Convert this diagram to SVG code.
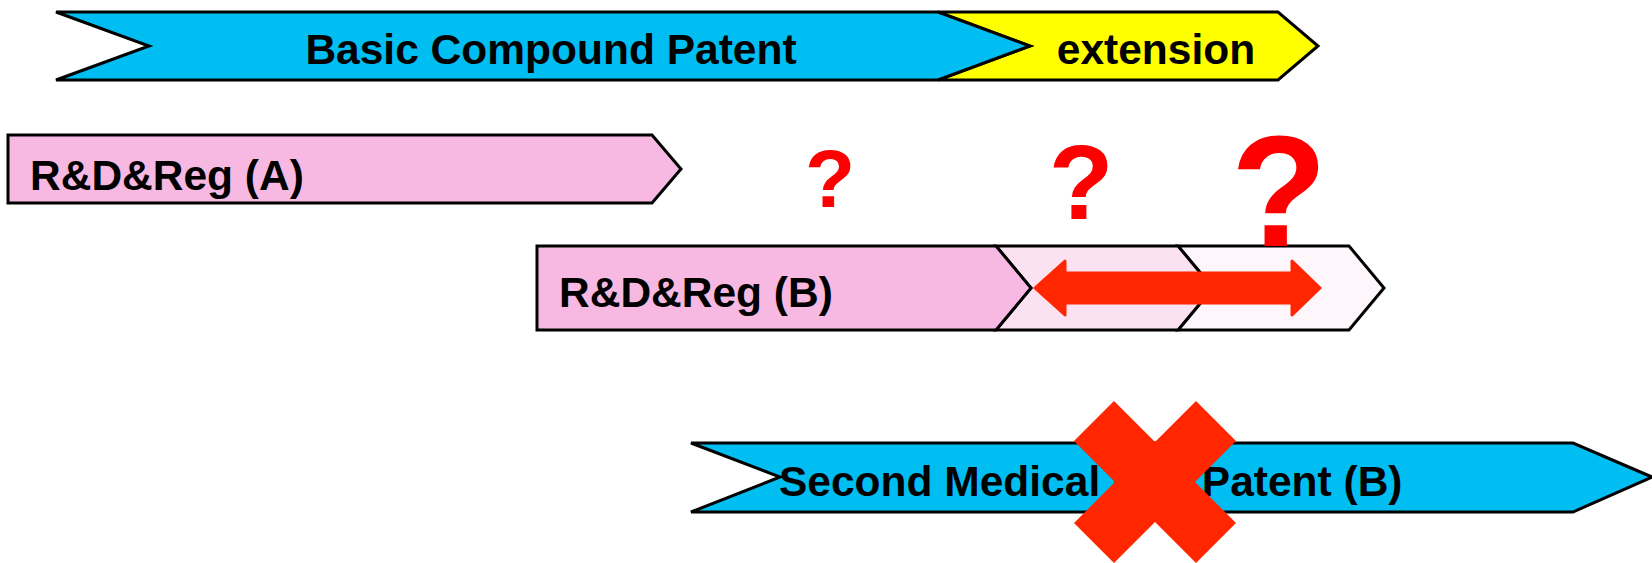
<svg xmlns="http://www.w3.org/2000/svg" width="1652" height="563" viewBox="0 0 1652 563">
<style>
.box{stroke:#000;stroke-width:3;stroke-linejoin:miter}
.blue{fill:#00BEF2}
.yellow{fill:#FFFF00}
.pink{fill:#F7B9E1}
.lpink{fill:#FCE1F2}
.vlpink{fill:#FFF6FC}
.lbl{font-family:"Liberation Sans",Arial,sans-serif;font-weight:bold;font-size:42.5px;fill:#000}
.q{font-family:"Liberation Sans",Arial,sans-serif;font-weight:bold;fill:#FF0000;text-anchor:middle}
.mark{fill:#FF2600;stroke:#FF2600;stroke-width:3;stroke-linejoin:round}
</style>
<rect width="1652" height="563" fill="#FFFFFF"/>
<g id="extension">
<polygon class="box yellow" points="938,12 1278,12 1318,46 1278,80 938,80 1030,46"/>
<text class="lbl" x="1156" y="64" text-anchor="middle">extension</text>
</g>
<g id="basic-patent">
<polygon class="box blue" points="56,12 938,12 1030,46 938,80 56,80 149,46"/>
<text class="lbl" x="551" y="64" text-anchor="middle">Basic Compound Patent</text>
</g>
<g id="rd-a">
<polygon class="box pink" points="8,135 652,135 681,169 652,203 8,203"/>
<text class="lbl" x="30" y="190">R&amp;D&amp;Reg (A)</text>
</g>
<g id="rd-b-ext2">
<polygon class="box vlpink" points="1178,246 1349,246 1384,288 1349,330 1178,330 1213,288"/>
</g>
<g id="rd-b-ext1">
<polygon class="box lpink" points="996,246 1178,246 1213,288 1178,330 996,330 1031,288"/>
</g>
<g id="rd-b">
<polygon class="box pink" points="537,246 996,246 1031,288 996,330 537,330"/>
<text class="lbl" x="559" y="307">R&amp;D&amp;Reg (B)</text>
</g>
<g id="questions">
<text class="q" x="830" y="207" font-size="82">?</text>
<text class="q" x="1081" y="219" font-size="106">?</text>
<text class="q" x="1279" y="246" font-size="158">?</text>
</g>
<g id="connectors">
<polygon class="mark" points="1035,288 1065,261 1065,273 1292,273 1292,261 1320,288 1292,315 1292,303 1065,303 1065,315"/>
</g>
<g id="second-medical-patent">
<polygon class="box blue" points="691,443 1573,443 1652,477 1573,512 691,512 780,477"/>
<text class="lbl" x="779" y="496">Second Medical Use Patent (B)</text>
</g>
<g id="cross">
<polygon fill="#FF2600" points="1114,401 1155,442 1196,401 1236,441 1195,482 1236,523 1196,563 1155,522 1114,563 1074,523 1115,482 1074,441"/>
</g>
</svg>
